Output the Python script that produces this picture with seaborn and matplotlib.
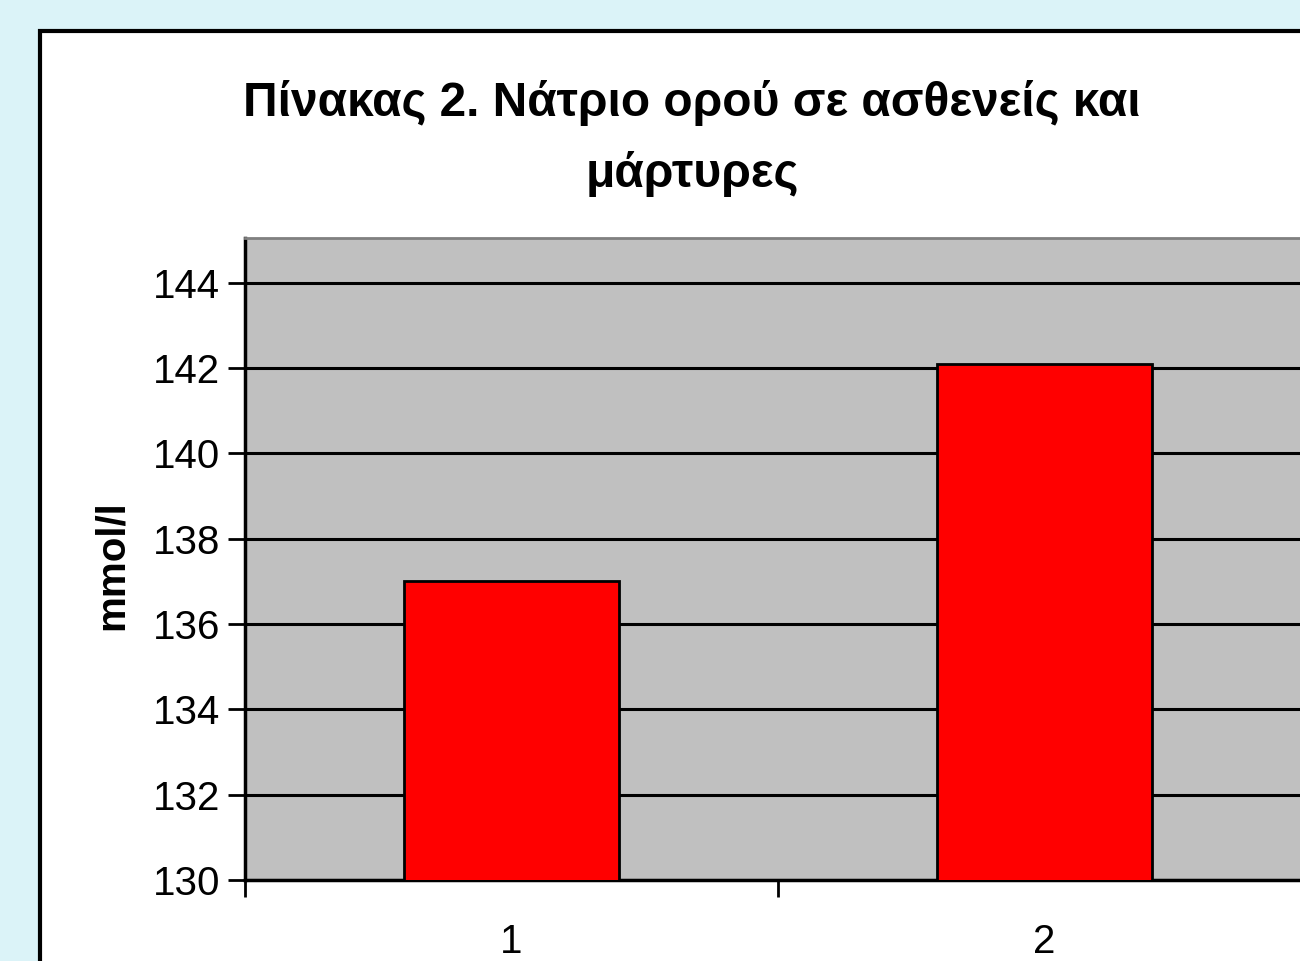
import numpy as np
import pandas as pd
import matplotlib
matplotlib.use("Agg")
import matplotlib.pyplot as plt
from matplotlib.patches import Rectangle
import seaborn as sns

# Data
groups = ["1", "2"]
sodium = [137.0, 142.1]
y_ticks = [130, 132, 134, 136, 138, 140, 142, 144]

title = "Πίνακας 2. Νάτριο ορού σε ασθενείς και\nμάρτυρες"
ylabel = "mmol/l"

sns.set_style("white")
plt.rcParams["font.family"] = ["Liberation Sans", "DejaVu Sans"]
plt.rcParams["text.color"] = "black"
plt.rcParams["xtick.color"] = "black"
plt.rcParams["ytick.color"] = "black"

W, H = 1300, 961
fig = plt.figure(figsize=(W / 100, H / 100), dpi=100)
fig.patch.set_facecolor("#dbf3f8")

# White chart box with black border (runs off the right and bottom edges)
box = Rectangle((40 / W, -0.2), 1.5, (H - 31) / H + 0.2, transform=fig.transFigure,
                facecolor="white", edgecolor="black", linewidth=3, zorder=-5)
fig.patches.append(box)

# Plot area: left 245px, top 238px, bottom 880px, two categories of ~533px each
left, top, bottom = 245, 238, 880
ax = fig.add_axes([left / W, (H - bottom) / H, 2 * 533 / W, (bottom - top) / H])
ax.set_facecolor("#c0c0c0")

df = pd.DataFrame({"group": groups, "sodium": sodium})
sns.barplot(data=df, x="group", y="sodium", color="#ff0000", edgecolor="black",
            linewidth=2, width=0.405, saturation=1, ax=ax, zorder=3)

ax.set_ylim(130, 145.05)
ax.set_xlim(-0.5, 1.5)
ax.set_yticks(y_ticks)
ax.set_yticklabels([str(t) for t in y_ticks], fontsize=29)
ax.yaxis.grid(True, color="black", linewidth=2.2, zorder=1)
ax.set_axisbelow(True)
ax.tick_params(axis="y", direction="out", length=12, width=2, color="black", pad=6,
               left=True, labelcolor="black")

# category labels without ticks, boundary ticks as minor ticks
ax.set_xticks([0, 1])
ax.set_xticklabels(groups, fontsize=29)
ax.tick_params(axis="x", which="major", length=0, pad=31, labelcolor="black")
ax.set_xticks([-0.5, 0.5, 1.5], minor=True)
ax.tick_params(axis="x", which="minor", direction="out", length=12, width=2,
               color="black", bottom=True)
ax.set_xlabel("")
ax.set_ylabel("")

for side in ["left", "bottom"]:
    ax.spines[side].set_color("black")
    ax.spines[side].set_linewidth(2.5)
ax.spines["top"].set_color("#808080")
ax.spines["top"].set_linewidth(2)
ax.spines["right"].set_visible(False)

fig.text(692 / W, 1 - 80 / H, title, ha="center", va="top", fontsize=34.5,
         fontweight="bold", linespacing=1.7, color="black")
fig.text(112 / W, 1 - 565 / H, ylabel, rotation=90, ha="center", va="center",
         fontsize=29, fontweight="bold", color="black")

fig.savefig("out.png", dpi=100, facecolor=fig.get_facecolor())
